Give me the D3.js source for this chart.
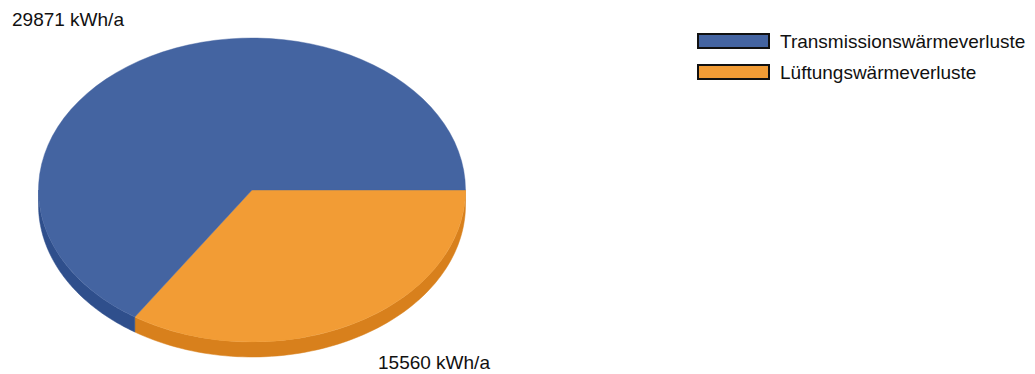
<!DOCTYPE html>
<html>
<head>
<meta charset="utf-8">
<script src="https://cdn.jsdelivr.net/npm/d3@7/dist/d3.min.js"></script>
<style>
  html, body { margin: 0; padding: 0; background: #ffffff; }
  svg { display: block; }
  text { font-family: "Liberation Sans", Arial, sans-serif; fill: #111; }
</style>
</head>
<body>
<svg id="chart" width="1035" height="374"></svg>
<script>
// Heat losses by category (kWh per year)
const categories = ["Lüftungswärmeverluste", "Transmissionswärmeverluste"];
const values = [15560, 29871];
const valueLabels = ["15560 kWh/a", "29871 kWh/a"];
const legendOrder = ["Transmissionswärmeverluste", "Lüftungswärmeverluste"];

const topColors = ["#F29C35", "#4464A1"];
const sideColors = ["#D8801C", "#2F4F8C"];

const cx = 252, cy = 190;     // centre of the top face
const rx = 213.5, ry = 152;   // ellipse radii
const depth = 15;             // thickness of the disc

const svg = d3.select("#chart");

const color = d3.scaleOrdinal().domain(categories).range(topColors);
const sideColor = d3.scaleOrdinal().domain(categories).range(sideColors);

// Slices start at 3 o'clock and run clockwise
const pie = d3.pie()
  .sort(null)
  .value(d => d.value)
  .startAngle(Math.PI / 2)
  .endAngle(Math.PI / 2 + 2 * Math.PI);

const data = categories.map((c, i) => ({ name: c, value: values[i], label: valueLabels[i] }));
const arcs = pie(data);

// d3 angle (0 = 12 o'clock, clockwise) -> parametric ellipse angle (0 = 3 o'clock, down positive)
const toT = a => a - Math.PI / 2;
const ex = t => cx + rx * Math.cos(t);
const ey = t => cy + ry * Math.sin(t);

// Side walls: only the front half (t in [0, PI]) is visible
const sideG = svg.append("g");
arcs.forEach(a => {
  const t0 = toT(a.startAngle), t1 = toT(a.endAngle);
  const ranges = [];
  for (const off of [0, 2 * Math.PI, -2 * Math.PI]) {
    const s = Math.max(t0 + off, 0), e = Math.min(t1 + off, Math.PI);
    if (e > s) ranges.push([s, e]);
  }
  ranges.forEach(([s, e]) => {
    const n = 80;
    const ts = d3.range(n + 1).map(k => s + (e - s) * k / n);
    const upper = ts.map(t => [ex(t), ey(t)]);
    const lower = ts.slice().reverse().map(t => [ex(t), ey(t) + depth]);
    sideG.append("path")
      .attr("d", d3.line()(upper.concat(lower)) + "Z")
      .attr("fill", sideColor(a.data.name))
      .attr("stroke", sideColor(a.data.name))
      .attr("stroke-width", 0.5);
  });
});

// Top face: circular arcs squashed vertically into an ellipse
const arcGen = d3.arc().innerRadius(0).outerRadius(rx);
const topG = svg.append("g")
  .attr("transform", `translate(${cx},${cy}) scale(1,${ry / rx})`);
topG.selectAll("path")
  .data(arcs)
  .join("path")
  .attr("d", arcGen)
  .attr("fill", d => color(d.data.name))
  .attr("stroke", d => color(d.data.name))
  .attr("stroke-width", 0.5);

// Value labels
svg.append("text")
  .attr("x", 12).attr("y", 26)
  .attr("font-size", 19)
  .text(valueLabels[1]);
svg.append("text")
  .attr("x", 378).attr("y", 369)
  .attr("font-size", 19)
  .text(valueLabels[0]);

// Legend
const legend = svg.append("g").attr("transform", "translate(698,34)");
const item = legend.selectAll("g")
  .data(legendOrder)
  .join("g")
  .attr("transform", (d, i) => `translate(0,${i * 31})`);
item.append("rect")
  .attr("x", 0).attr("y", 0)
  .attr("width", 71).attr("height", 14)
  .attr("fill", d => color(d))
  .attr("stroke", "#111")
  .attr("stroke-width", 2);
item.append("text")
  .attr("x", 82).attr("y", 14)
  .attr("font-size", 19)
  .text(d => d);
</script>
</body>
</html>
